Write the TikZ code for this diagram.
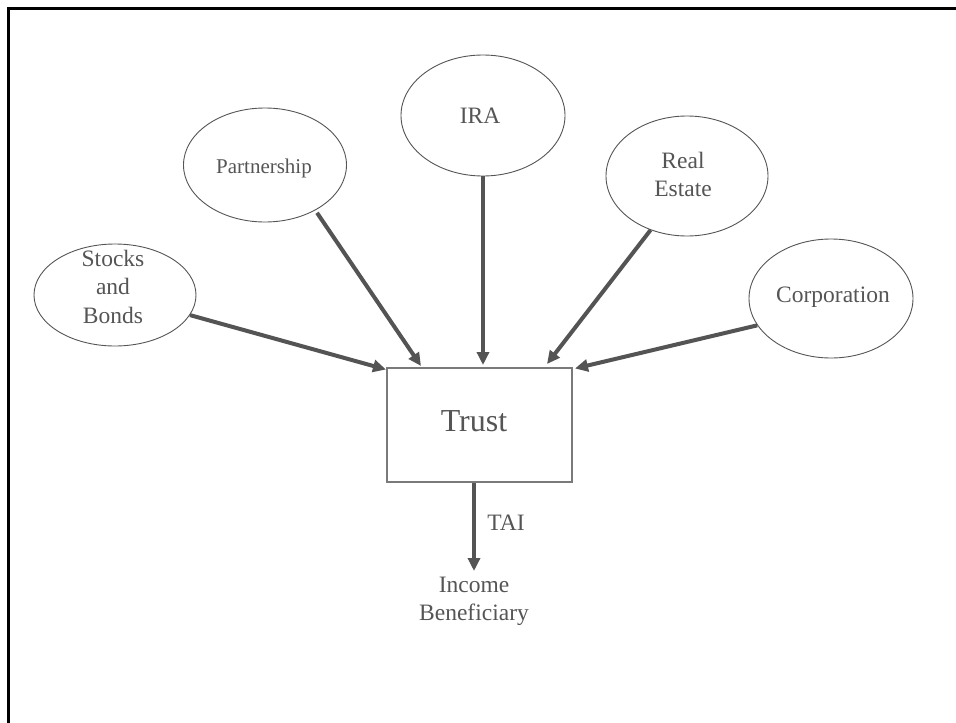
\documentclass[tikz,border=0pt]{standalone}
\usepackage{fontspec}
\setmainfont{Liberation Serif}
\usetikzlibrary{shapes.geometric,arrows.meta}
\definecolor{ink}{HTML}{555555}
\definecolor{arrowc}{HTML}{545454}
\definecolor{boxc}{HTML}{7A7A7A}
\tikzset{
  bubble/.style={ellipse, draw=ink, line width=0.9pt, inner sep=0pt},
  lbl/.style={text=ink, inner sep=0pt, anchor=base, font=\fontsize{23.5}{28}\selectfont},
  small/.style={lbl, font=\fontsize{21}{25}\selectfont},
  big/.style={lbl, font=\fontsize{32}{38}\selectfont},
  arr/.style={draw=arrowc, line width=4pt, -{Triangle[length=13pt,width=12pt]}},
  trustbox/.style={draw=boxc, line width=1.3pt, minimum width=185pt, minimum height=114pt, inner sep=0pt}
}
\begin{document}
\begin{tikzpicture}[x=1pt,y=-1pt]
\useasboundingbox (0,0) rectangle (956,723);
\clip (0,0) rectangle (956,723);
\fill[white] (0,0) rectangle (956,723);
\draw[line width=3pt, black] (8.5,740) -- (8.5,8.5) -- (970,8.5);

% ellipses
\node[bubble, minimum width=162pt, minimum height=102pt] (sb) at (115,295) {};
\node[bubble, minimum width=163pt, minimum height=114pt] (pt) at (265,165) {};
\node[bubble, minimum width=164pt, minimum height=121pt] (ira) at (483,115.5) {};
\node[bubble, minimum width=162pt, minimum height=120pt] (re) at (687,176) {};
\node[bubble, minimum width=164pt, minimum height=119pt] (co) at (831,298.5) {};

% labels
\node[lbl] (sb1) at (113,266) {Stocks};
\node[lbl] (sb2) at (113,294.5) {and};
\node[lbl] (sb3) at (113,323) {Bonds};
\node[small] (ptl) at (264,173) {Partnership};
\node[lbl] (iral) at (480,123) {IRA};
\node[lbl] (re1) at (683,168) {Real};
\node[lbl] (re2) at (683,196) {Estate};
\node[lbl] (col) at (833,302) {Corporation};

% trust
\node[trustbox] (trust) at (479.5,425) {};
\node[big] (trustl) at (474,431) {Trust};

% arrow tips
\coordinate (t1) at (386,369.5);
\coordinate (t2) at (421,366);
\coordinate (t3) at (483,365);
\coordinate (t4) at (547,364);
\coordinate (t5) at (575,368.5);

\draw[arr] (sb.-15) -- (t1);
\draw[arr, shorten <=3pt] (pt.-42) -- (t2);
\draw[arr] (ira.south) -- (t3);
\draw[arr] (re.-124) -- (t4);
\draw[arr] (co.-160) -- (t5);

% output
\coordinate (bt) at (474,571);
\draw[arr] (trust.south -| bt) -- (bt);
\node[lbl] (tai) at (506,530) {TAI};
\node[lbl] (ben1) at (474,592) {Income};
\node[lbl] (ben2) at (474,620) {Beneficiary};
\end{tikzpicture}
\end{document}
